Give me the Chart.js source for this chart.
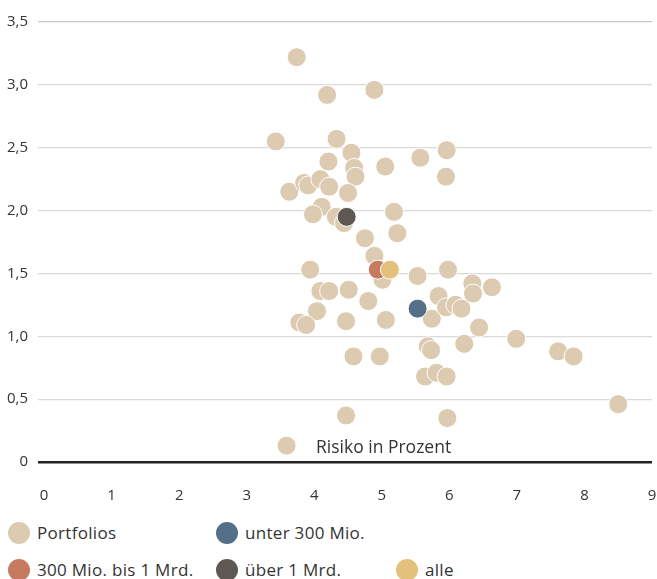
<!DOCTYPE html>
<html>
<head>
<meta charset="utf-8">
<script src="https://cdn.jsdelivr.net/npm/chart.js@4/dist/chart.umd.min.js"></script>
<style>
    body { margin: 0; background: #fff; font-family: "Open Sans", sans-serif; color: #333; }
    #wrap { position: relative; width: 657px; height: 579px; }
    #axisTitle { position: absolute; left: 316px; top: 434px; font-size: 17.5px; }
    .item { position: absolute; display: flex; align-items: center; white-space: nowrap; font-size: 17px; letter-spacing: 0.3px; }
    .dot { width: 22px; height: 22px; border-radius: 50%; margin-right: 7px; }
</style>
</head>
<body>
<div id="wrap">
    <canvas id="scatter" width="657" height="510"></canvas>
    <div id="axisTitle">Risiko in Prozent</div>
</div>
<script>
// x = Risiko in Prozent, y = Rendite
const portfolioX = [3.74, 4.19, 4.89, 3.43, 4.33, 4.55, 4.21, 4.59, 4.61, 5.05, 5.57, 5.96, 5.95,
    3.63, 3.85, 3.91, 4.09, 4.22, 4.50, 4.11, 3.98, 4.32, 4.44, 5.18, 5.23, 4.75, 4.89, 5.01,
    3.94, 5.53, 5.98, 4.09, 4.22, 4.51, 4.80, 4.04, 3.78, 3.88, 4.47, 5.06, 5.74, 5.84, 5.95,
    6.09, 6.18, 6.34, 6.35, 6.63, 6.44, 6.22, 6.99, 5.68, 5.73, 4.58, 4.97, 5.64, 5.81, 5.96,
    4.47, 5.97, 7.61, 7.84, 8.50, 3.59];
const portfolioY = [3.22, 2.92, 2.96, 2.55, 2.57, 2.46, 2.39, 2.34, 2.27, 2.35, 2.42, 2.48, 2.27,
    2.15, 2.22, 2.20, 2.25, 2.19, 2.14, 2.03, 1.97, 1.95, 1.90, 1.99, 1.82, 1.78, 1.64, 1.45,
    1.53, 1.48, 1.53, 1.36, 1.36, 1.37, 1.28, 1.20, 1.11, 1.09, 1.12, 1.13, 1.14, 1.32, 1.23,
    1.25, 1.22, 1.42, 1.34, 1.39, 1.07, 0.94, 0.98, 0.92, 0.89, 0.84, 0.84, 0.68, 0.71, 0.68,
    0.37, 0.35, 0.88, 0.84, 0.46, 0.13];

const groupNames = ['unter 300 Mio.', '300 Mio. bis 1 Mrd.', 'über 1 Mrd.', 'alle'];
const groupX = [5.53, 4.94, 4.48, 5.12];
const groupY = [1.22, 1.53, 1.95, 1.53];
const groupColors = ['#566f89', '#c67a60', '#5f5751', '#e3c17c'];

const xTicks = [0, 1, 2, 3, 4, 5, 6, 7, 8, 9];
const yTicks = [0, 0.5, 1, 1.5, 2, 2.5, 3, 3.5];

const portfolioColor = '#dccab1';

const toPoints = (xs, ys) => xs.map((x, i) => ({ x: x, y: ys[i] }));

// chart.js draws the first dataset on top, so build the list back to front
const datasets = groupNames.map((name, i) => ({
    label: name,
    data: [{ x: groupX[i], y: groupY[i] }],
    backgroundColor: groupColors[i]
})).reverse();
datasets.push({
    label: 'Portfolios',
    data: toPoints(portfolioX, portfolioY),
    backgroundColor: portfolioColor
});

Chart.defaults.font.family = '"Open Sans", sans-serif';
Chart.defaults.color = '#333';

new Chart(document.getElementById('scatter'), {
    type: 'scatter',
    data: { datasets: datasets },
    options: {
        responsive: false,
        animation: false,
        layout: { autoPadding: false, padding: { top: 22, right: 5, left: 0, bottom: 0 } },
        elements: {
            point: { radius: 9.5, hoverRadius: 9.5, borderWidth: 1, borderColor: '#fff' }
        },
        plugins: { legend: { display: false }, tooltip: { enabled: false } },
        scales: {
            x: {
                type: 'linear',
                min: -0.09,
                max: 9,
                afterBuildTicks: s => { s.ticks = xTicks.map(v => ({ value: v })) },
                afterFit: s => { s.height = 48 },
                grid: { drawOnChartArea: false, drawTicks: true, tickLength: 25, color: 'rgba(0,0,0,0)' },
                border: { display: false },
                ticks: { padding: 0, font: { size: 15 } }
            },
            y: {
                min: 0,
                max: 3.5,
                afterBuildTicks: s => { s.ticks = yTicks.map(v => ({ value: v })) },
                afterFit: s => { s.width = 38 },
                grid: {
                    drawTicks: false,
                    color: c => c.tick.value === 0 ? '#222' : (c.tick.value === 3.5 ? '#c6c6c6' : '#dadada'),
                    lineWidth: c => c.tick.value === 0 ? 2.5 : 1.2
                },
                border: { display: false },
                ticks: {
                    padding: 10,
                    font: { size: 15 },
                    callback: v => v === 0 ? '0' : v.toFixed(1).replace('.', ',')
                }
            }
        }
    }
});

// legend laid out in two rows like the original
const legendItems = [
    { label: 'Portfolios', color: portfolioColor, left: 8, top: 521 },
    { label: groupNames[0], color: groupColors[0], left: 216, top: 521 },
    { label: groupNames[1], color: groupColors[1], left: 8, top: 558 },
    { label: groupNames[2], color: groupColors[2], left: 216, top: 558 },
    { label: groupNames[3], color: groupColors[3], left: 396, top: 558 }
];
const wrap = document.getElementById('wrap');
legendItems.forEach(it => {
    const el = document.createElement('div');
    el.className = 'item';
    el.style.left = it.left + 'px';
    el.style.top = it.top + 'px';
    el.innerHTML = '<span class="dot" style="background:' + it.color + '"></span><span>' + it.label + '</span>';
    wrap.appendChild(el);
});
</script>
</body>
</html>
